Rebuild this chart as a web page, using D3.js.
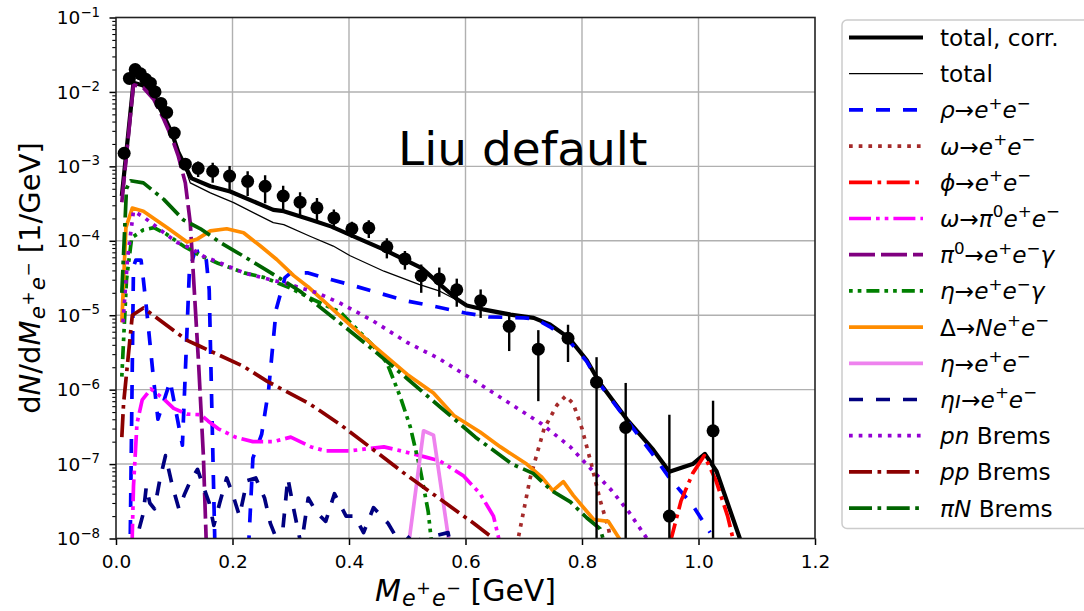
<!DOCTYPE html>
<html>
<head>
<meta charset="utf-8">
<script src="https://cdn.jsdelivr.net/npm/d3@7"></script>
<style>
  body { margin: 0; background: #fff; }
  svg { display: block; }
  text { font-family: "DejaVu Sans", sans-serif; fill: #000; }
</style>
</head>
<body>
<svg id="chart" width="1084" height="611"></svg>
<script>
// ---------- axis ticks ----------
const xTickValues = [0, 0.2, 0.4, 0.6, 0.8, 1.0, 1.2];
const yTickExponents = [-8, -7, -6, -5, -4, -3, -2, -1];

// ---------- measured spectrum: mass [GeV], dN/dM [1/GeV], error ----------
const dataMass  = [0.014, 0.023, 0.033, 0.042, 0.051, 0.059, 0.067, 0.077, 0.087, 0.100,
                   0.119, 0.141, 0.166, 0.195, 0.226, 0.256, 0.287, 0.316, 0.345, 0.374,
                   0.405, 0.434, 0.465, 0.496, 0.524, 0.555, 0.585, 0.626, 0.675, 0.725,
                   0.776, 0.825, 0.875, 0.950, 1.025];
const dataYield = [1.5e-3, 1.52e-2, 2.0e-2, 1.75e-2, 1.48e-2, 1.31e-2, 1.0e-2, 7.0e-3, 5.3e-3, 2.8e-3,
                   1.07e-3, 9.4e-4, 8.6e-4, 7.4e-4, 6.3e-4, 5.4e-4, 4.0e-4, 3.3e-4, 2.77e-4, 2.03e-4,
                   1.45e-4, 1.49e-4, 8.3e-5, 5.7e-5, 3.4e-5, 3.07e-5, 2.2e-5, 1.57e-5, 7.1e-6, 3.5e-6,
                   4.9e-6, 1.26e-6, 3.1e-7, 2.0e-8, 2.8e-7];
const dataError = [1e-4, 5e-4, 6e-4, 5e-4, 5e-4, 4e-4, 3e-4, 2e-4, 2e-4, 1e-4,
                   1.5e-4, 2.2e-4, 2.6e-4, 2.7e-4, 2.3e-4, 2.2e-4, 1.5e-4, 1.2e-4, 1.0e-4, 6e-5,
                   3.5e-5, 4e-5, 2.5e-5, 1.6e-5, 1.4e-5, 1.3e-5, 9e-6, 6.5e-6, 3.8e-6, 2.8e-6,
                   2.55e-6, 1.47e-6, 9.2e-7, 4.4e-7, 4.3e-7];

// ---------- model cocktail: [mass GeV, dN/dM 1/GeV] ----------
const totalCorr = [[0.010,4.0e-4],[0.030,1.33e-2],[0.047,1.22e-2],[0.065,8.6e-3],[0.082,4.8e-3],
  [0.096,2.8e-3],[0.107,1.55e-3],[0.119,1.0e-3],[0.1275,7.4e-4],[0.130,6.9e-4],[0.162,5.4e-4],
  [0.196,4.6e-4],[0.270,2.6e-4],[0.288,2.5e-4],[0.333,1.93e-4],[0.370,1.55e-4],[0.402,1.2e-4],
  [0.460,7.6e-5],[0.525,4.3e-5],[0.556,2.6e-5],[0.585,1.65e-5],[0.602,1.35e-5],[0.630,1.2e-5],
  [0.677,1.02e-5],[0.717,9.2e-6],[0.745,7.5e-6],[0.777,5.0e-6],[0.808,2.5e-6],[0.830,1.25e-6],
  [0.877,4.0e-7],[0.9225,1.55e-7],[0.950,7.9e-8],[0.990,1.0e-7],[1.011,1.37e-7],[1.031,8.0e-8],
  [1.071,1.0e-8],[1.080,5e-9]];
const totalRaw = [[0.010,4.0e-4],[0.030,1.33e-2],[0.047,1.22e-2],[0.065,8.6e-3],[0.082,4.8e-3],
  [0.096,2.8e-3],[0.107,1.55e-3],[0.119,9.3e-4],[0.1275,6.0e-4],[0.162,4.4e-4],[0.202,3.25e-4],
  [0.270,1.75e-4],[0.288,1.65e-4],[0.333,1.15e-4],[0.373,8.5e-5],[0.402,6.3e-5],[0.460,3.9e-5],
  [0.520,2.6e-5],[0.556,2.1e-5],[0.585,1.6e-5],[0.602,1.35e-5],[0.630,1.2e-5],
  [0.677,1.02e-5],[0.717,9.2e-6],[0.745,7.5e-6],[0.777,5.0e-6],[0.808,2.5e-6],[0.830,1.25e-6],
  [0.877,4.0e-7],[0.9225,1.55e-7],[0.950,7.9e-8],[0.990,1.0e-7],[1.011,1.37e-7],[1.031,8.0e-8],
  [1.071,1.0e-8],[1.080,5e-9]];
const rhoEE = [[0.024,5e-9],[0.030,4.5e-5],[0.034,5.5e-5],[0.043,5.5e-5],[0.047,3e-5],[0.053,1.1e-5],
  [0.064,1.5e-6],[0.072,4e-7],[0.093,1.3e-6],[0.114,1.8e-7],[0.126,4e-5],[0.135,7e-5],[0.148,7.5e-5],
  [0.155,5.5e-5],[0.160,2.2e-5],[0.171,3e-9],[0.225,3e-9],[0.235,1.2e-7],[0.250,2.5e-7],[0.262,1e-6],
  [0.275,1.2e-5],[0.290,3.2e-5],[0.300,3.7e-5],[0.330,3.7e-5],[0.350,3.3e-5],[0.400,2.6e-5],
  [0.450,2.0e-5],[0.500,1.55e-5],[0.550,1.3e-5],[0.600,1.07e-5],[0.640,9.5e-6],[0.700,9.2e-6],
  [0.720,8.9e-6],[0.745,7e-6],[0.777,4.6e-6],[0.808,2.4e-6],[0.830,1.2e-6],[0.877,3.9e-7],
  [0.920,1.4e-7],[0.950,6.5e-8],[0.990,2.8e-8],[1.020,1.2e-8]];
const omegaEE = [[0.688,8e-9],[0.711,6.5e-8],[0.735,3e-7],[0.757,6.2e-7],[0.772,8.2e-7],[0.785,6.5e-7],
  [0.800,3e-7],[0.816,1.0e-7],[0.831,3.3e-8],[0.845,1.4e-8],[0.852,8e-9]];
const phiEE = [[0.950,8e-9],[0.970,3.2e-8],[0.990,7.5e-8],[1.010,1.3e-7],[1.030,6e-8],[1.050,2e-8],[1.062,8e-9]];
const omegaDalitz = [[0.0275,8e-9],[0.030,5e-8],[0.036,3.5e-7],[0.045,7.3e-7],[0.060,1.02e-6],
  [0.082,7.5e-7],[0.099,5.6e-7],[0.122,4.7e-7],[0.145,4.6e-7],[0.158,3.8e-7],[0.175,3.0e-7],
  [0.205,2.3e-7],[0.235,2.0e-7],[0.270,2.0e-7],[0.300,2.3e-7],[0.335,1.7e-7],[0.360,1.5e-7],
  [0.400,1.5e-7],[0.430,1.6e-7],[0.460,1.7e-7],[0.490,1.5e-7],[0.530,1.25e-7],[0.556,1.1e-7],
  [0.596,7e-8],[0.625,4e-8],[0.648,2e-8],[0.660,8e-9]];
const pi0Dalitz = [[0.010,3.3e-4],[0.030,1.25e-2],[0.047,1.14e-2],[0.065,7.9e-3],[0.082,4.3e-3],
  [0.096,2.4e-3],[0.107,1.37e-3],[0.119,6.0e-4],[0.1275,1.74e-4],[0.133,3.3e-5],[0.1417,2.3e-6],
  [0.150,1.3e-7],[0.156,5e-9]];
const etaDalitz = [[0.010,1.5e-6],[0.018,3e-5],[0.027,1.1e-4],[0.047,1.4e-4],[0.065,1.5e-4],
  [0.085,1.25e-4],[0.116,8.5e-5],[0.145,6.3e-5],[0.175,5e-5],[0.220,3.7e-5],[0.255,3.2e-5],
  [0.300,2.3e-5],[0.340,1.6e-5],[0.385,1.1e-5],[0.440,4e-6],[0.465,2.3e-6],[0.488,8e-7],
  [0.505,3.2e-7],[0.522,8.7e-8],[0.536,2.3e-8],[0.545,5e-9]];
const deltaDalitz = [[0.010,8e-6],[0.017,1.5e-4],[0.028,2.75e-4],[0.047,2.5e-4],[0.088,1.5e-4],
  [0.122,9.6e-5],[0.140,1.06e-4],[0.162,1.36e-4],[0.190,1.45e-4],[0.219,1.28e-4],[0.248,8.5e-5],
  [0.276,5.6e-5],[0.305,3.4e-5],[0.330,2.4e-5],[0.385,9.7e-6],[0.442,3.9e-6],[0.500,1.6e-6],
  [0.545,9e-7],[0.580,4.5e-7],[0.625,2.7e-7],[0.660,1.7e-7],[0.705,1.0e-7],[0.730,6.8e-8],
  [0.750,4.4e-8],[0.768,5.8e-8],[0.785,3.8e-8],[0.820,1.8e-8],[0.845,1.7e-8],[0.872,8e-9]];
const etaEE = [[0.500,6e-9],[0.528,2.8e-7],[0.545,2.45e-7],[0.575,6e-9]];
const etaPrimeEE = [[0.030,6e-9],[0.038,1.2e-8],[0.047,2.2e-8],[0.052,5e-8],[0.058,3e-8],[0.066,2.5e-8],
  [0.075,6e-8],[0.085,1.3e-7],[0.097,5e-8],[0.108,2.5e-8],[0.118,4e-8],[0.128,6e-8],[0.140,8.5e-8],
  [0.150,5e-8],[0.160,3e-8],[0.168,1.5e-8],[0.178,3e-8],[0.190,6.5e-8],[0.200,4e-8],[0.212,2e-8],
  [0.225,6e-8],[0.240,6.5e-8],[0.255,3.5e-8],[0.265,1.6e-8],[0.283,7e-9],[0.295,6.5e-8],
  [0.305,2.5e-8],[0.318,8e-9],[0.330,3.5e-8],[0.345,2.2e-8],[0.360,1.7e-8],[0.375,4e-8],
  [0.395,2e-8],[0.410,2e-8],[0.425,1.2e-8],[0.442,2.6e-8],[0.467,1.6e-8],[0.490,8e-9],
  [0.510,1.2e-8],[0.530,8e-9],[0.550,1.1e-8],[0.570,1.2e-8],[0.580,5e-9]];
const pnBrems = [[0.012,8e-6],[0.020,6e-5],[0.030,2.5e-4],[0.047,2.1e-4],[0.076,1.4e-4],[0.105,9.5e-5],
  [0.128,8e-5],[0.150,6.2e-5],[0.180,5e-5],[0.220,3.7e-5],[0.265,3e-5],[0.290,2.7e-5],[0.345,2e-5],
  [0.385,1.45e-5],[0.440,8.5e-6],[0.500,4.3e-6],[0.555,2.6e-6],[0.610,1.4e-6],[0.670,7e-7],
  [0.730,3.5e-7],[0.780,1.7e-7],[0.810,9.5e-8],[0.850,4.5e-8],[0.880,2.3e-8],[0.920,8e-9]];
const ppBrems = [[0.010,2.3e-7],[0.013,6.5e-7],[0.028,1.0e-5],[0.047,1.25e-5],[0.122,4.6e-6],
  [0.145,3.8e-6],[0.219,2.05e-6],[0.259,1.3e-6],[0.333,6.4e-7],[0.385,3.4e-7],[0.440,1.6e-7],
  [0.500,7e-8],[0.556,3.4e-8],[0.614,1.6e-8],[0.648,1.0e-8],[0.660,7e-9]];
const piNBrems = [[0.010,2e-5],[0.018,5e-4],[0.025,6.4e-4],[0.047,6e-4],[0.082,3.6e-4],[0.116,1.9e-4],
  [0.145,1.45e-4],[0.179,9.5e-5],[0.219,6.2e-5],[0.259,4e-5],[0.288,2.9e-5],[0.316,2.1e-5],
  [0.385,7.8e-6],[0.442,3.4e-6],[0.500,1.4e-6],[0.557,5.8e-7],[0.617,2.3e-7],[0.680,1.0e-7],
  [0.716,7.5e-8],[0.748,4.4e-8],[0.780,3.1e-8],[0.808,1.9e-8],[0.831,1.35e-8],[0.840,8e-9]];

// ---------- series, in drawing / legend order ----------
const series = [
  { data: totalCorr,   label: [['total, corr.']] },
  { data: totalRaw,    label: [['total']] },
  { data: rhoEE,       label: [['ρ','i'],['→'],['e','i'],['+','sup'],['e','i'],['−','sup']] },
  { data: omegaEE,     label: [['ω','i'],['→'],['e','i'],['+','sup'],['e','i'],['−','sup']] },
  { data: phiEE,       label: [['ϕ','i'],['→'],['e','i'],['+','sup'],['e','i'],['−','sup']] },
  { data: omegaDalitz, label: [['ω','i'],['→'],['π','i'],['0','sup'],['e','i'],['+','sup'],['e','i'],['−','sup']] },
  { data: pi0Dalitz,   label: [['π','i'],['0','sup'],['→'],['e','i'],['+','sup'],['e','i'],['−','sup'],['γ','i']] },
  { data: etaDalitz,   label: [['η','i'],['→'],['e','i'],['+','sup'],['e','i'],['−','sup'],['γ','i']] },
  { data: deltaDalitz, label: [['Δ'],['→'],['N','i'],['e','i'],['+','sup'],['e','i'],['−','sup']] },
  { data: etaEE,       label: [['η','i'],['→'],['e','i'],['+','sup'],['e','i'],['−','sup']] },
  { data: etaPrimeEE,  label: [['η','i'],['ı','i'],['→'],['e','i'],['+','sup'],['e','i'],['−','sup']] },
  { data: pnBrems,     label: [['pn','i'],[' Brems']] },
  { data: ppBrems,     label: [['pp','i'],[' Brems']] },
  { data: piNBrems,    label: [['πN','i'],[' Brems']] }
];

// line styles, same order as above
const lineStyles = [
  { color: '#000000', width: 4.2, dash: null },
  { color: '#000000', width: 1.3, dash: null },
  { color: '#0000ff', width: 3.7, dash: '14,13' },
  { color: '#a52a2a', width: 3.7, dash: '3.7,6' },
  { color: '#ff0000', width: 3.7, dash: '23,5.5,3.7,5.5' },
  { color: '#ff00ff', width: 3.7, dash: '22,5,3.7,5,3.7,5' },
  { color: '#800080', width: 3.7, dash: '26,6' },
  { color: '#008000', width: 3.7, dash: '3.7,5,3.7,5,13,5' },
  { color: '#ff8c00', width: 3.7, dash: null },
  { color: '#ee82ee', width: 3.7, dash: null },
  { color: '#000080', width: 3.7, dash: '14,13' },
  { color: '#9400d3', width: 3.7, dash: '3.7,6' },
  { color: '#8b0000', width: 3.7, dash: '23,5.5,3.7,5.5' },
  { color: '#006400', width: 3.7, dash: '23,5.5,3.7,5.5' }
];

// ---------- layout ----------
const plot = { left: 116, right: 815, top: 17.5, bottom: 538.5 };
const svg = d3.select('#chart');
svg.append('rect').attr('width', 1084).attr('height', 611).attr('fill', '#fff');

const x = d3.scaleLinear().domain([0, 1.2]).range([plot.left, plot.right]);
const y = d3.scaleLog().domain([1e-8, 1e-1]).range([plot.bottom, plot.top]);

// rich text helper: tokens of [string, kind]
function richText(parent, tokens, size, opts = {}) {
  const t = parent.append('text')
    .attr('x', opts.x || 0).attr('y', opts.y || 0)
    .attr('font-size', size)
    .attr('text-anchor', opts.anchor || 'start');
  if (opts.transform) t.attr('transform', opts.transform);
  let shift = 0;
  tokens.forEach(([s, kind]) => {
    let fs = size, target = 0, italic = false, dx = 0;
    if (kind === 'i') italic = true;
    else if (kind === 'sup') { fs = size * 0.72; target = -0.41 * size; }
    else if (kind === 'sub') { fs = size * 0.74; target = 0.18 * size; italic = true; dx = 0.04 * size; }
    else if (kind === 'subsup') { fs = size * 0.58; target = -0.22 * size; dx = 0.02 * size; }
    const ts = t.append('tspan').text(s).attr('font-size', fs);
    if (target - shift !== 0) ts.attr('dy', target - shift);
    if (dx) ts.attr('dx', dx);
    if (italic) ts.attr('font-style', 'italic');
    shift = target;
  });
  return t;
}

// ---------- grid ----------
const grid = svg.append('g').attr('stroke', '#b0b0b0').attr('stroke-width', 1.4);
grid.selectAll('line.gx').data(xTickValues.slice(1, -1)).join('line')
  .attr('x1', d => x(d)).attr('x2', d => x(d))
  .attr('y1', plot.top).attr('y2', plot.bottom);
grid.selectAll('line.gy').data(yTickExponents.slice(1, -1)).join('line')
  .attr('x1', plot.left).attr('x2', plot.right)
  .attr('y1', d => y(Math.pow(10, d))).attr('y2', d => y(Math.pow(10, d)));

// ---------- model curves ----------
svg.append('clipPath').attr('id', 'plotClip').append('rect')
  .attr('x', plot.left).attr('y', plot.top)
  .attr('width', plot.right - plot.left).attr('height', plot.bottom - plot.top);
const curves = svg.append('g').attr('clip-path', 'url(#plotClip)');
const line = d3.line().x(d => x(d[0])).y(d => y(d[1]));
series.forEach((s, i) => {
  const st = lineStyles[i];
  curves.append('path').datum(s.data)
    .attr('d', line)
    .attr('fill', 'none')
    .attr('stroke', st.color)
    .attr('stroke-width', st.width)
    .attr('stroke-linejoin', 'round')
    .attr('stroke-linecap', 'butt')
    .attr('stroke-dasharray', st.dash);
});

// ---------- "Liu default" annotation ----------
svg.append('text').attr('x', 398).attr('y', 165).attr('font-size', 47).text('Liu default');

// ---------- data points with error bars ----------
const pts = dataMass.map((m, i) => ({ m, v: dataYield[i], e: dataError[i] }));
const dataG = svg.append('g').attr('clip-path', 'url(#plotClip)');
dataG.selectAll('line.err').data(pts).join('line')
  .attr('x1', d => x(d.m)).attr('x2', d => x(d.m))
  .attr('y1', d => y(d.v + d.e))
  .attr('y2', d => y(Math.max(d.v - d.e, 1e-9)))
  .attr('stroke', '#000').attr('stroke-width', 2.4);
dataG.selectAll('circle').data(pts).join('circle')
  .attr('cx', d => x(d.m)).attr('cy', d => y(d.v))
  .attr('r', 6.5).attr('fill', '#000');

// ---------- axes ----------
const xAxis = svg.append('g').attr('transform', `translate(0,${plot.bottom})`)
  .call(d3.axisBottom(x).tickValues(xTickValues).tickSize(6.5).tickPadding(10)
    .tickFormat(d3.format('.1f')));
xAxis.select('.domain').remove();
xAxis.selectAll('.tick line').attr('stroke', '#000').attr('stroke-width', 1.5);
xAxis.selectAll('.tick text').attr('font-size', 18.5).attr('font-family', 'DejaVu Sans');

const yMajor = svg.append('g').attr('transform', `translate(${plot.left},0)`)
  .call(d3.axisLeft(y).tickValues(yTickExponents.map(e => Math.pow(10, e))).tickSize(6.5).tickFormat(''));
yMajor.select('.domain').remove();
yMajor.selectAll('.tick line').attr('stroke', '#000').attr('stroke-width', 1.5);

const minorVals = [];
yTickExponents.slice(0, -1).forEach(e => { for (let k = 2; k <= 9; k++) minorVals.push(k * Math.pow(10, e)); });
const yMinor = svg.append('g').attr('transform', `translate(${plot.left},0)`)
  .call(d3.axisLeft(y).tickValues(minorVals).tickSize(3.7).tickFormat(''));
yMinor.select('.domain').remove();
yMinor.selectAll('.tick line').attr('stroke', '#000').attr('stroke-width', 1.1);

yTickExponents.forEach(e => {
  richText(svg, [['10'], ['−' + Math.abs(e), 'sup']], 18.5,
    { x: 100, y: y(Math.pow(10, e)) + 6.6, anchor: 'end' });
});

// frame
svg.append('rect').attr('x', plot.left).attr('y', plot.top)
  .attr('width', plot.right - plot.left).attr('height', plot.bottom - plot.top)
  .attr('fill', 'none').attr('stroke', '#222').attr('stroke-width', 1.6);

// axis titles
richText(svg, [['M', 'i'], ['e', 'sub'], ['+', 'subsup'], ['e', 'sub'], ['−', 'subsup'], [' [GeV]']], 30,
  { x: (plot.left + plot.right) / 2, y: 601, anchor: 'middle' });
richText(svg, [['d'], ['N', 'i'], ['/d'], ['M', 'i'], ['e', 'sub'], ['+', 'subsup'], ['e', 'sub'], ['−', 'subsup'], ['  [1/GeV]']], 29,
  { x: 0, y: 0, anchor: 'middle', transform: `translate(40,${(plot.top + plot.bottom) / 2}) rotate(-90)` });

// ---------- legend ----------
const legend = svg.append('g');
legend.append('rect').attr('x', 842).attr('y', 20).attr('width', 260).attr('height', 508.5)
  .attr('rx', 5).attr('fill', '#fff').attr('stroke', '#cccccc').attr('stroke-width', 1.5);
series.forEach((s, i) => {
  const st = lineStyles[i];
  const cy = 37.5 + i * 36.2;
  legend.append('line').attr('x1', 849).attr('x2', 923).attr('y1', cy).attr('y2', cy)
    .attr('stroke', st.color).attr('stroke-width', st.width)
    .attr('stroke-dasharray', st.dash).attr('stroke-linecap', 'butt');
  richText(legend, s.label, 23.2, { x: 940, y: cy + 8.4 });
});
</script>
</body>
</html>
